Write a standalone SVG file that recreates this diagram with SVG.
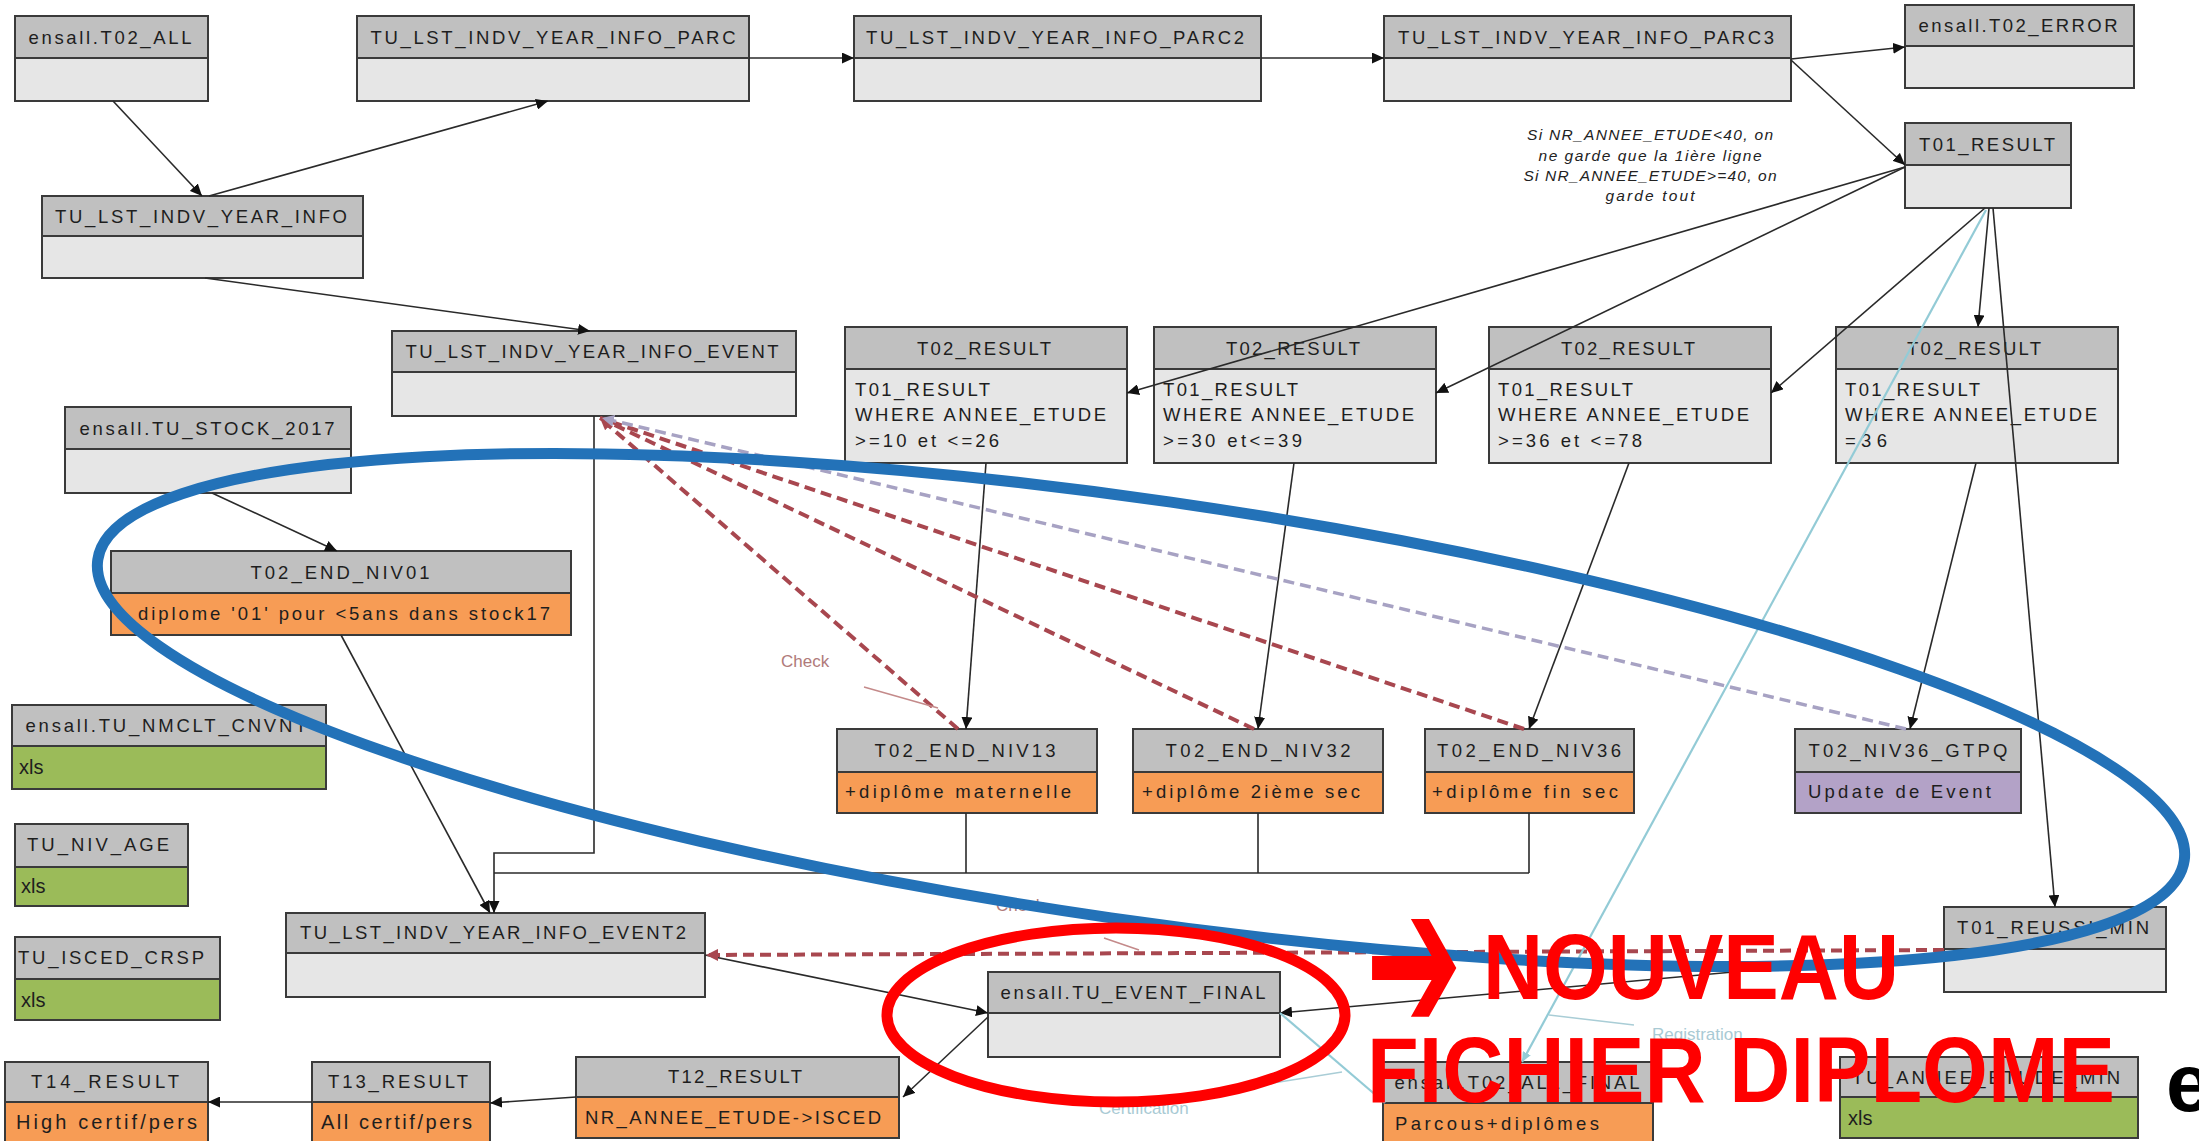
<svg xmlns="http://www.w3.org/2000/svg" width="2199" height="1141" viewBox="0 0 2199 1141">
<style>
.hd{fill:#c0c0c0;stroke:#3a3a3a;stroke-width:2}
.bd{fill:#e6e6e6;stroke:#3a3a3a;stroke-width:2}
.or{fill:#f79c55;stroke:#3a3a3a;stroke-width:2}
.gr{fill:#9bbb59;stroke:#3a3a3a;stroke-width:2}
.pu{fill:#b3a2c7;stroke:#3a3a3a;stroke-width:2}
.ht{font-family:"Liberation Sans",Arial,sans-serif;font-size:18.5px;fill:#1e1e1e;text-anchor:middle}
.bt{font-family:"Liberation Sans",Arial,sans-serif;font-size:18.5px;fill:#1e1e1e}
.xl{font-family:"Liberation Sans",Arial,sans-serif;font-size:20px;fill:#1e1e1e}
.cn{fill:none;stroke:#2a2a2a;stroke-width:1.6}
.rd{fill:none;stroke:#a8474f;stroke-width:4;stroke-dasharray:11 6}
.pd{fill:none;stroke:#a7a2c3;stroke-width:3.5;stroke-dasharray:11 6}
.cy{fill:none;stroke:#93cbd6;stroke-width:2.2}
.note{font-family:"Liberation Sans",Arial,sans-serif;font-size:15.5px;font-style:italic;fill:#222;text-anchor:middle}
.lbl{font-family:"Liberation Sans",Arial,sans-serif;font-size:17px}
.big{font-family:"Liberation Sans",Arial,sans-serif;font-weight:bold;font-size:93px;fill:#ff0000}
</style>
<defs>
<marker id="ab" markerUnits="userSpaceOnUse" markerWidth="13" markerHeight="11" refX="12" refY="5.5" orient="auto"><path d="M0,0 L12,5.5 L0,11 z" fill="#111"/></marker>
<marker id="ar" markerUnits="userSpaceOnUse" markerWidth="14" markerHeight="12" refX="12" refY="6" orient="auto"><path d="M0,0 L12,6 L0,12 z" fill="#a8474f"/></marker>
<marker id="ap" markerUnits="userSpaceOnUse" markerWidth="14" markerHeight="12" refX="12" refY="6" orient="auto"><path d="M0,0 L12,6 L0,12 z" fill="#a7a2c3"/></marker>
<marker id="ac" markerUnits="userSpaceOnUse" markerWidth="11" markerHeight="9" refX="10" refY="4.5" orient="auto"><path d="M0,0 L10,4.5 L0,9 z" fill="#93cbd6"/></marker>
</defs>
<rect width="2199" height="1141" fill="#ffffff"/>

<g id="nodes">
<g id="n-t02all"><rect class="hd" x="15" y="16" width="193" height="42"/><rect class="bd" x="15" y="58" width="193" height="43"/><text class="ht" x="110" y="44" textLength="163" lengthAdjust="spacing">ensall.T02_ALL</text></g>
<g id="n-parc"><rect class="hd" x="357" y="16" width="392" height="42"/><rect class="bd" x="357" y="58" width="392" height="43"/><text class="ht" x="553" y="44" textLength="365" lengthAdjust="spacing">TU_LST_INDV_YEAR_INFO_PARC</text></g>
<g id="n-parc2"><rect class="hd" x="854" y="16" width="407" height="42"/><rect class="bd" x="854" y="58" width="407" height="43"/><text class="ht" x="1055" y="44" textLength="378" lengthAdjust="spacing">TU_LST_INDV_YEAR_INFO_PARC2</text></g>
<g id="n-parc3"><rect class="hd" x="1384" y="16" width="407" height="42"/><rect class="bd" x="1384" y="58" width="407" height="43"/><text class="ht" x="1586" y="44" textLength="376" lengthAdjust="spacing">TU_LST_INDV_YEAR_INFO_PARC3</text></g>
<g id="n-t02error"><rect class="hd" x="1905" y="5" width="229" height="41"/><rect class="bd" x="1905" y="46" width="229" height="42"/><text class="ht" x="2018" y="32" textLength="199" lengthAdjust="spacing">ensall.T02_ERROR</text></g>
<g id="n-t01result"><rect class="hd" x="1905" y="123" width="166" height="42"/><rect class="bd" x="1905" y="165" width="166" height="43"/><text class="ht" x="1987" y="151" textLength="136" lengthAdjust="spacing">T01_RESULT</text></g>
<g id="n-info"><rect class="hd" x="42" y="196" width="321" height="40"/><rect class="bd" x="42" y="236" width="321" height="42"/><text class="ht" x="201" y="223" textLength="292" lengthAdjust="spacing">TU_LST_INDV_YEAR_INFO</text></g>
<g id="n-event"><rect class="hd" x="392" y="331" width="404" height="41"/><rect class="bd" x="392" y="372" width="404" height="44"/><text class="ht" x="592" y="358" textLength="373" lengthAdjust="spacing">TU_LST_INDV_YEAR_INFO_EVENT</text></g>
<g id="n-stock"><rect class="hd" x="65" y="407" width="286" height="42"/><rect class="bd" x="65" y="449" width="286" height="44"/><text class="ht" x="207" y="435" textLength="255" lengthAdjust="spacing">ensall.TU_STOCK_2017</text></g>
<g id="n-niv01"><rect class="hd" x="111" y="551" width="460" height="42"/><rect class="or" x="111" y="593" width="460" height="42"/><text class="ht" x="340" y="579" textLength="179" lengthAdjust="spacing">T02_END_NIV01</text><text class="bt" x="138" y="620" textLength="412" lengthAdjust="spacing">diplome '01' pour &lt;5ans dans stock17</text></g>

<g id="n-t02r1"><rect class="hd" x="845" y="327" width="282" height="42"/><rect class="bd" x="845" y="369" width="282" height="94"/><text class="ht" x="984" y="355" textLength="134" lengthAdjust="spacing">T02_RESULT</text>
<text class="bt" x="855" y="396" textLength="135" lengthAdjust="spacing">T01_RESULT</text><text class="bt" x="855" y="421" textLength="251" lengthAdjust="spacing">WHERE ANNEE_ETUDE</text><text class="bt" x="855" y="447" textLength="144" lengthAdjust="spacing">&gt;=10 et &lt;=26</text></g>
<g id="n-t02r2"><rect class="hd" x="1154" y="327" width="282" height="42"/><rect class="bd" x="1154" y="369" width="282" height="94"/><text class="ht" x="1293" y="355" textLength="134" lengthAdjust="spacing">T02_RESULT</text>
<text class="bt" x="1163" y="396" textLength="135" lengthAdjust="spacing">T01_RESULT</text><text class="bt" x="1163" y="421" textLength="251" lengthAdjust="spacing">WHERE ANNEE_ETUDE</text><text class="bt" x="1163" y="447" textLength="139" lengthAdjust="spacing">&gt;=30 et&lt;=39</text></g>
<g id="n-t02r3"><rect class="hd" x="1489" y="327" width="282" height="42"/><rect class="bd" x="1489" y="369" width="282" height="94"/><text class="ht" x="1628" y="355" textLength="134" lengthAdjust="spacing">T02_RESULT</text>
<text class="bt" x="1498" y="396" textLength="135" lengthAdjust="spacing">T01_RESULT</text><text class="bt" x="1498" y="421" textLength="251" lengthAdjust="spacing">WHERE ANNEE_ETUDE</text><text class="bt" x="1498" y="447" textLength="144" lengthAdjust="spacing">&gt;=36 et &lt;=78</text></g>
<g id="n-t02r4"><rect class="hd" x="1836" y="327" width="282" height="42"/><rect class="bd" x="1836" y="369" width="282" height="94"/><text class="ht" x="1974" y="355" textLength="134" lengthAdjust="spacing">T02_RESULT</text>
<text class="bt" x="1845" y="396" textLength="135" lengthAdjust="spacing">T01_RESULT</text><text class="bt" x="1845" y="421" textLength="252" lengthAdjust="spacing">WHERE ANNEE_ETUDE</text><text class="bt" x="1845" y="447" textLength="42" lengthAdjust="spacing">=36</text></g>

<g id="n-niv13"><rect class="hd" x="837" y="729" width="260" height="43"/><rect class="or" x="837" y="772" width="260" height="41"/><text class="ht" x="965" y="757" textLength="181" lengthAdjust="spacing">T02_END_NIV13</text><text class="bt" x="845" y="798" textLength="226" lengthAdjust="spacing">+diplôme maternelle</text></g>
<g id="n-niv32"><rect class="hd" x="1133" y="729" width="250" height="43"/><rect class="or" x="1133" y="772" width="250" height="41"/><text class="ht" x="1258" y="757" textLength="185" lengthAdjust="spacing">T02_END_NIV32</text><text class="bt" x="1142" y="798" textLength="218" lengthAdjust="spacing">+diplôme 2ième sec</text></g>
<g id="n-niv36"><rect class="hd" x="1425" y="729" width="209" height="43"/><rect class="or" x="1425" y="772" width="209" height="41"/><text class="ht" x="1529" y="757" textLength="184" lengthAdjust="spacing">T02_END_NIV36</text><text class="bt" x="1432" y="798" textLength="186" lengthAdjust="spacing">+diplôme fin sec</text></g>
<g id="n-gtpq"><rect class="hd" x="1795" y="729" width="226" height="43"/><rect class="pu" x="1795" y="772" width="226" height="41"/><text class="ht" x="1908" y="757" textLength="199" lengthAdjust="spacing">T02_NIV36_GTPQ</text><text class="bt" x="1808" y="798" textLength="183" lengthAdjust="spacing">Update de Event</text></g>

<g id="n-nmclt"><rect class="hd" x="12" y="705" width="314" height="41"/><rect class="gr" x="12" y="746" width="314" height="43"/><text class="ht" x="166" y="732" textLength="281" lengthAdjust="spacing">ensall.TU_NMCLT_CNVNT</text><text class="xl" x="19" y="774">xls</text></g>
<g id="n-nivage"><rect class="hd" x="15" y="824" width="173" height="43"/><rect class="gr" x="15" y="867" width="173" height="39"/><text class="ht" x="98" y="851" textLength="142" lengthAdjust="spacing">TU_NIV_AGE</text><text class="xl" x="21" y="893">xls</text></g>
<g id="n-isced"><rect class="hd" x="15" y="937" width="205" height="42"/><rect class="gr" x="15" y="979" width="205" height="41"/><text class="ht" x="111" y="964" textLength="186" lengthAdjust="spacing">TU_ISCED_CRSP</text><text class="xl" x="21" y="1007">xls</text></g>
<g id="n-event2"><rect class="hd" x="286" y="913" width="419" height="40"/><rect class="bd" x="286" y="953" width="419" height="44"/><text class="ht" x="493" y="939" textLength="386" lengthAdjust="spacing">TU_LST_INDV_YEAR_INFO_EVENT2</text></g>
<g id="n-t14"><rect class="hd" x="5" y="1062" width="203" height="40"/><rect class="or" x="5" y="1102" width="203" height="48"/><text class="ht" x="105" y="1088" textLength="148" lengthAdjust="spacing">T14_RESULT</text><text class="xl" x="16" y="1129" textLength="181" lengthAdjust="spacing">High certif/pers</text></g>
<g id="n-t13"><rect class="hd" x="312" y="1062" width="178" height="40"/><rect class="or" x="312" y="1102" width="178" height="48"/><text class="ht" x="398" y="1088" textLength="140" lengthAdjust="spacing">T13_RESULT</text><text class="xl" x="321" y="1129" textLength="151" lengthAdjust="spacing">All certif/pers</text></g>
<g id="n-t12"><rect class="hd" x="576" y="1057" width="323" height="40"/><rect class="or" x="576" y="1097" width="323" height="41"/><text class="ht" x="735" y="1083" textLength="134" lengthAdjust="spacing">T12_RESULT</text><text class="bt" x="585" y="1124" textLength="296" lengthAdjust="spacing">NR_ANNEE_ETUDE-&gt;ISCED</text></g>
<g id="n-eventfinal"><rect class="hd" x="988" y="972" width="292" height="41"/><rect class="bd" x="988" y="1013" width="292" height="44"/><text class="ht" x="1133" y="999" textLength="265" lengthAdjust="spacing">ensall.TU_EVENT_FINAL</text></g>
<g id="n-t02allfinal"><rect class="hd" x="1383" y="1062" width="270" height="41"/><rect class="or" x="1383" y="1103" width="270" height="47"/><text class="ht" x="1517" y="1089" textLength="245" lengthAdjust="spacing">ensall.T02_ALL_FINAL</text><text class="bt" x="1395" y="1130" textLength="204" lengthAdjust="spacing">Parcous+diplômes</text></g>
<g id="n-anneemin"><rect class="hd" x="1840" y="1057" width="298" height="40"/><rect class="gr" x="1840" y="1097" width="298" height="41"/><text class="ht" x="1986" y="1084" textLength="268" lengthAdjust="spacing">TU_ANNEE_ETUDE_MIN</text><text class="xl" x="1848" y="1125">xls</text></g>
<g id="n-reussi"><rect class="hd" x="1944" y="907" width="222" height="42"/><rect class="bd" x="1944" y="949" width="222" height="43"/><text class="ht" x="2053" y="934" textLength="192" lengthAdjust="spacing">T01_REUSSI_MIN</text></g>
</g>

<g id="note">
<text class="note" x="1650" y="140" textLength="246" lengthAdjust="spacing">Si NR_ANNEE_ETUDE&lt;40, on</text>
<text class="note" x="1650" y="161" textLength="223" lengthAdjust="spacing">ne garde que la 1ière ligne</text>
<text class="note" x="1650" y="181" textLength="253" lengthAdjust="spacing">Si NR_ANNEE_ETUDE&gt;=40, on</text>
<text class="note" x="1650" y="201" textLength="89" lengthAdjust="spacing">garde tout</text>
</g>

<g id="connectors">
<line class="cn" x1="113" y1="101" x2="202" y2="196" marker-end="url(#ab)"/>
<line class="cn" x1="209" y1="196" x2="548" y2="101" marker-end="url(#ab)"/>
<line class="cn" x1="749" y1="58" x2="854" y2="58" marker-end="url(#ab)"/>
<line class="cn" x1="1261" y1="58" x2="1384" y2="58" marker-end="url(#ab)"/>
<line class="cn" x1="1791" y1="59" x2="1905" y2="47" marker-end="url(#ab)"/>
<line class="cn" x1="1791" y1="60" x2="1905" y2="165" marker-end="url(#ab)"/>
<line class="cn" x1="205" y1="278" x2="590" y2="331" marker-end="url(#ab)"/>
<line class="cn" x1="1905" y1="167" x2="1127" y2="393" marker-end="url(#ab)"/>
<line class="cn" x1="1905" y1="167" x2="1436" y2="393" marker-end="url(#ab)"/>
<line class="cn" x1="1985" y1="208" x2="1771" y2="393" marker-end="url(#ab)"/>
<line class="cn" x1="1989" y1="208" x2="1978" y2="327" marker-end="url(#ab)"/>
<line class="cn" x1="1993" y1="208" x2="2055" y2="907" marker-end="url(#ab)"/>
<line class="cn" x1="212" y1="493" x2="337" y2="551" marker-end="url(#ab)"/>
<line class="cn" x1="986" y1="463" x2="966" y2="729" marker-end="url(#ab)"/>
<line class="cn" x1="1294" y1="463" x2="1258" y2="729" marker-end="url(#ab)"/>
<line class="cn" x1="1629" y1="463" x2="1529" y2="729" marker-end="url(#ab)"/>
<line class="cn" x1="1976" y1="463" x2="1910" y2="729" marker-end="url(#ab)"/>
<polyline class="cn" points="594,416 594,853 494,853 494,913" marker-end="url(#ab)"/>
<polyline class="cn" points="494,873 1529,873"/>
<line class="cn" x1="966" y1="813" x2="966" y2="873"/>
<line class="cn" x1="1258" y1="813" x2="1258" y2="873"/>
<line class="cn" x1="1529" y1="813" x2="1529" y2="873"/>
<line class="cn" x1="341" y1="635" x2="490" y2="913" marker-end="url(#ab)"/>
<line class="cn" x1="705" y1="955" x2="988" y2="1013" marker-end="url(#ab)"/>
<line class="cn" x1="1944" y1="953" x2="1280" y2="1013" marker-end="url(#ab)"/>
<line class="cn" x1="988" y1="1017" x2="903" y2="1097" marker-end="url(#ab)"/>
<line class="cn" x1="576" y1="1097" x2="490" y2="1103" marker-end="url(#ab)"/>
<line class="cn" x1="312" y1="1102" x2="208" y2="1102" marker-end="url(#ab)"/>

<line class="rd" x1="958" y1="729" x2="600" y2="418" marker-end="url(#ar)"/>
<line class="rd" x1="1254" y1="729" x2="600" y2="418" marker-end="url(#ar)"/>
<line class="rd" x1="1524" y1="729" x2="600" y2="418" marker-end="url(#ar)"/>
<line class="pd" x1="1906" y1="729" x2="602" y2="418" marker-end="url(#ap)"/>
<line class="rd" x1="1944" y1="950" x2="706" y2="955" marker-end="url(#ar)"/>

<line class="cy" x1="1986" y1="210" x2="1522" y2="1062" marker-end="url(#ac)"/>
<line class="cy" x1="1280" y1="1013" x2="1385" y2="1103" marker-end="url(#ac)"/>
<line stroke="#a9cdd6" stroke-width="1.5" x1="1549" y1="1015" x2="1634" y2="1025"/>
<line stroke="#a9cdd6" stroke-width="1.5" x1="1249" y1="1087" x2="1342" y2="1072"/>
<line stroke="#c48a8a" stroke-width="1.5" x1="864" y1="687" x2="938" y2="708"/>
<line stroke="#c48a8a" stroke-width="1.5" x1="1104" y1="938" x2="1139" y2="950"/>
</g>

<g id="labels">
<text class="lbl" x="781" y="667" fill="#b07a7a">Check</text>
<text class="lbl" x="996" y="911" fill="#b07a7a">Check</text>
<text class="lbl" x="1652" y="1040" fill="#a9cad4">Registration</text>
<text class="lbl" x="1099" y="1114" fill="#a9cad4">Certification</text>
</g>

<g id="highlights">
<ellipse cx="1141" cy="710" rx="1054" ry="210" transform="rotate(8.2 1141 710)" fill="none" stroke="#2372b8" stroke-width="11"/>
<ellipse cx="1116" cy="1015" rx="229" ry="87" fill="none" stroke="#ff0000" stroke-width="11"/>
<text x="1366" y="998" font-family="'DejaVu Sans',sans-serif" font-weight="bold" font-size="100" fill="#ff0000" transform="translate(1369 966) scale(1.15 2.05) translate(-1369 -966)">➔</text>
<text class="big" x="1483" y="999" textLength="416" lengthAdjust="spacingAndGlyphs">NOUVEAU</text>
<text class="big" x="1367" y="1102" textLength="748" lengthAdjust="spacingAndGlyphs">FICHIER DIPLOME</text>
<text x="2166" y="1111" font-family="'Liberation Sans',Arial,sans-serif" font-weight="bold" font-size="82" fill="#000">e</text>
</g>
</svg>
